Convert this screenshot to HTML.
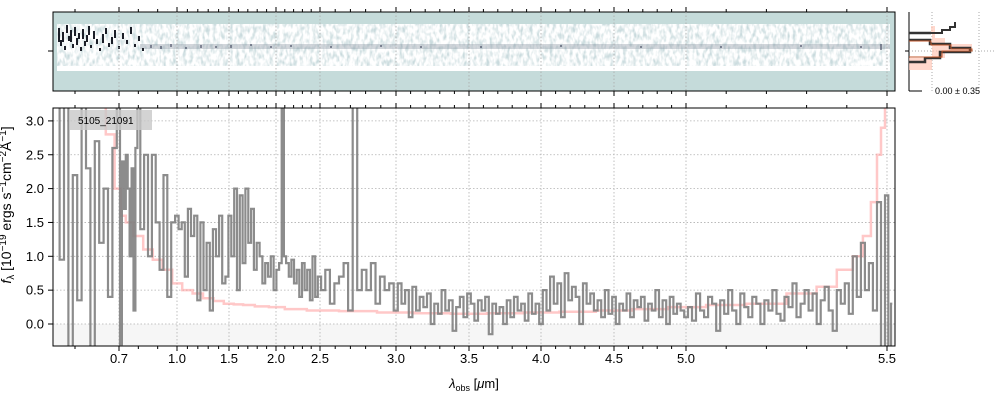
<!DOCTYPE html>
<html><head><meta charset="utf-8"><style>
html,body{margin:0;padding:0;background:#fff;width:1000px;height:400px;overflow:hidden}
svg{font-family:"Liberation Sans","DejaVu Sans",sans-serif}
</style></head><body>
<svg id="chart" width="1000" height="400" viewBox="0 0 1000 400">
<defs>
<clipPath id="cp"><rect x="53" y="108" width="842" height="238"/></clipPath>
<filter id="noise" x="0" y="0" width="100%" height="100%">
<feTurbulence type="fractalNoise" baseFrequency="0.3 0.15" numOctaves="2" seed="4"/>
<feColorMatrix type="matrix" values="0 0 0 0 0.55  0 0 0 0 0.68  0 0 0 0 0.7  0 0 0 -2.6 1.55"/>
</filter>
</defs>
<g id="top2d">
<rect x="53" y="12" width="842" height="79" fill="#c5dbda"/>
<rect x="57" y="24" width="833" height="47" fill="#fff"/>
<rect x="57" y="24" width="833" height="42" fill="#fff" filter="url(#noise)" opacity="0.9"/>
<rect x="140" y="44" width="750" height="5" fill="#7d8a99" opacity="0.35"/>
<g id="darkstreaks"></g>
<rect x="53" y="12" width="842" height="79" fill="none" stroke="#000" stroke-width="1"/>
</g>
<g id="side">
<line x1="909" y1="12" x2="909" y2="91" stroke="#000"/>
<line x1="909" y1="91" x2="922" y2="91" stroke="#000"/>
<line x1="905" y1="51" x2="909" y2="51" stroke="#000"/>
<line x1="909" y1="51" x2="996" y2="51" stroke="#aaa" stroke-dasharray="1,2"/>
<line x1="932" y1="12" x2="932" y2="91" stroke="#aaa" stroke-dasharray="1,2"/>
<line x1="979" y1="12" x2="979" y2="91" stroke="#aaa" stroke-dasharray="1,2"/>
<path d="M909,32 L931,32 L931,26 L935,26 L935,38 L945,38 L945,44 L972,44 L972,51 L945,51 L945,58 L909,58 L909,70 L932,70 L932,32 Z" fill="#ffc8b8" opacity="0.7"/>
<path d="M909,33 L942,33 L942,30 L950,30 L950,27 L955,27 L955,22" fill="none" stroke="#333" stroke-width="2"/>
<path d="M909,33 L931,33 M909,40 L930,40 L930,44 L950,44 L950,48 L970,48 L970,52 L940,52 L940,58 L925,58 L925,62 L909,62" fill="none" stroke="#333" stroke-width="2.5"/>
<path d="M909,41 L931,41 L931,45 L951,45 L951,49 L972,49 L972,51 L942,51 L942,57 L909,57" fill="none" stroke="#c0562a" stroke-width="1"/>
<text x="935" y="94" font-size="9">0.00 ± 0.35</text>
</g>
<g id="main"></g>
</svg>
<script>
const tickVals=[0.7,1.0,1.5,2.0,2.5,3.0,3.5,4.0,4.5,5.0,5.5];
const tickLabels=["0.7","1.0","1.5","2.0","2.5","3.0","3.5","4.0","4.5","5.0","5.5"];
const yTicks=[0,0.5,1,1.5,2,2.5,3];
const yLabels=["0.0","0.5","1.0","1.5","2.0","2.5","3.0"];
const wave=[0.56,0.57,0.58,0.59,0.60,0.61,0.62,0.63,0.64,0.65,0.66,0.67,0.68,0.69,0.70,0.71,0.72,0.73,0.74,0.75,0.76,0.77,0.78,0.79,0.80,
0.82,0.84,0.86,0.88,0.90,0.92,0.94,0.96,0.98,
1.00,1.03,1.06,1.09,1.12,1.15,1.18,1.21,1.24,1.27,1.30,1.33,1.36,1.39,1.42,1.45,1.48,1.51,1.54,1.57,1.60,1.63,1.66,1.69,1.72,1.75,1.78,1.81,1.84,1.87,1.90,1.93,1.96,1.99,2.02,2.05,2.08,
2.10,2.13,2.16,2.19,2.22,2.25,2.28,2.31,2.34,2.37,2.40,2.43,2.46,2.49,2.52,2.55,2.58,2.61,2.64,2.67,2.70,2.73,2.76,2.79,2.82,2.85,2.88,2.91,2.94,2.97,3.00,
3.025,3.05,3.075,3.10,3.125,3.15,3.175,3.20,3.225,3.25,3.275,3.30,3.325,3.35,3.375,3.40,3.425,3.45,3.475,3.50,3.525,3.55,3.575,3.60,3.625,3.65,3.675,3.70,3.725,3.75,3.775,3.80,3.825,3.85,3.875,3.90,3.925,3.95,3.975,4.00,
4.025,4.05,4.075,4.10,4.125,4.15,4.175,4.20,4.225,4.25,4.275,4.30,4.325,4.35,4.375,4.40,4.425,4.45,4.475,4.50,4.525,4.55,4.575,4.60,4.625,4.65,4.675,4.70,4.725,4.75,4.775,4.80,4.825,4.85,4.875,4.90,4.925,4.95,4.975,5.00,
5.01,5.02,5.03,5.04,5.05,5.06,5.07,5.08,5.09,5.10,5.11,5.12,5.13,5.14,5.15,5.16,5.17,5.18,5.19,5.20,5.21,5.22,5.23,5.24,5.25,5.26,5.27,5.28,5.29,5.30,5.31,5.32,5.33,5.34,5.35,5.36,5.37,5.38,5.39,5.40,5.41,5.42,5.43,5.44,5.45,5.46,5.47,5.48,5.49,5.50,5.51,5.52];
const flux=[3.3,0.95,3.3,-0.4,2.2,0.35,3.3,2.3,-0.4,2.7,1.2,2.0,0.4,2.6,3.3,-0.3,2.4,1.7,2.5,2.0,1.0,2.3,0.2,2.6,3.3,
1.4,2.5,1.0,2.5,1.5,0.8,2.2,0.4,1.5,
1.6,1.4,1.5,0.7,1.7,1.3,1.6,0.35,1.5,0.5,1.2,0.2,1.4,1.0,1.6,0.6,0.7,1.6,1.0,2.0,0.5,1.9,0.9,2.0,1.2,1.7,0.8,1.2,1.0,0.6,0.9,0.7,1.0,0.5,0.8,0.9,3.3,
1.0,0.9,0.7,0.95,0.6,0.8,0.4,0.9,0.5,0.8,0.35,1.0,0.4,0.7,0.5,0.8,0.3,0.6,0.7,0.9,0.2,3.3,0.5,0.8,0.5,0.9,0.3,0.7,0.5,0.6,0.2,
0.6,0.3,0.5,0.1,0.55,0.2,0.4,0.25,0.45,0.0,0.3,0.15,0.5,0.2,0.35,-0.1,0.25,0.4,0.1,0.45,0.3,0.05,0.35,0.2,0.4,-0.15,0.3,0.15,0.25,0.0,0.35,0.1,0.4,0.2,0.3,0.05,0.45,0.15,0.3,0.0,
0.5,0.2,0.7,0.3,0.6,0.1,0.75,0.35,0.55,0.4,0.0,0.6,0.3,0.45,0.2,0.35,0.1,0.5,0.15,0.4,0.0,0.3,0.2,0.45,0.1,0.35,0.25,0.4,0.05,0.3,0.2,0.5,0.1,0.35,0.0,0.4,0.15,0.3,0.2,0.1,
0.25,0.05,0.45,0.2,0.1,0.4,0.3,-0.1,0.35,0.15,0.5,0.2,0.0,0.45,0.25,0.1,0.4,0.3,0.0,0.35,0.2,0.5,0.15,0.05,0.4,0.25,0.6,0.1,0.3,0.5,0.2,0.45,0.0,0.35,0.55,0.2,-0.1,0.5,0.3,0.6,0.15,1.0,0.4,1.2,0.5,0.9,0.2,1.8,-0.4,1.9,-0.4,0.3];
const errWave=[0.66,0.68,0.70,0.72,0.75,0.80,0.85,0.90,0.95,1.0,1.1,1.2,1.3,1.4,1.5,1.6,1.7,1.85,2.0,2.2,2.5,2.75,3.0,3.25,3.5,3.75,4.0,4.25,4.5,4.75,5.0,5.1,5.2,5.3,5.35,5.4,5.43,5.45,5.47,5.48,5.49,5.5];
const errFlux=[3.3,2.8,2.0,1.6,1.5,1.3,1.1,0.95,0.8,0.6,0.5,0.45,0.38,0.34,0.3,0.29,0.28,0.26,0.25,0.22,0.2,0.19,0.17,0.16,0.15,0.16,0.17,0.18,0.2,0.22,0.25,0.28,0.3,0.45,0.55,0.8,1.0,1.3,1.8,2.5,2.9,3.3];

const NS='http://www.w3.org/2000/svg';
const axW=[0.55,0.7,1.0,1.5,2.0,2.5,3.0,3.5,4.0,4.5,5.0,5.5,5.53];
const axX=[53,119,177,229,276,320,396,469,541,614,686,887,895];
function xs(w){for(let i=0;i<axW.length-1;i++){if(w<=axW[i+1]||i==axW.length-2){return axX[i]+(w-axW[i])/(axW[i+1]-axW[i])*(axX[i+1]-axX[i]);}}}
function ys(f){return 324-67.7*f;}
function mk(tag,attrs,parent){const e=document.createElementNS(NS,tag);for(const k in attrs)e.setAttribute(k,attrs[k]);parent.appendChild(e);return e;}
const main=document.getElementById('main');

const shade=mk('rect',{x:53,y:324,width:842,height:22,fill:'#f6f6f6'},main);



const top2d=document.getElementById('top2d');
tickVals.forEach(v=>{
  const x=xs(v);
  const g=mk('line',{x1:x,y1:108,x2:x,y2:346,stroke:'#b0b0b0','stroke-dasharray':'1.5,2','stroke-width':0.8},main);
  
  
  mk('line',{x1:x,y1:12,x2:x,y2:91,stroke:'#aaa','stroke-dasharray':'1.5,2','stroke-width':0.8},top2d);
});
yTicks.forEach(v=>{
  const y=ys(v);
  const g=mk('line',{x1:53,y1:y,x2:895,y2:y,stroke:'#b0b0b0','stroke-dasharray':'1.5,2','stroke-width':0.8},main);
  
  
});

function stepPath(W,F){
  let d='';
  for(let i=0;i<W.length;i++){
    const xl=i==0?xs(W[0]):(xs(W[i-1])+xs(W[i]))/2;
    const xr=i==W.length-1?xs(W[i]):(xs(W[i])+xs(W[i+1]))/2;
    const y=ys(F[i]);
    d+=(i==0?'M':'L')+xl.toFixed(1)+','+y.toFixed(1)+' L'+xr.toFixed(1)+','+y.toFixed(1)+' ';
  }
  return d;
}
const cg=mk('g',{'clip-path':'url(#cp)'},main);
const ep=mk('path',{d:stepPath(errWave,errFlux),fill:'none',stroke:'#ff9a9a','stroke-width':2.5,opacity:0.55},cg);


const fp=mk('path',{d:stepPath(wave,flux),fill:'none',stroke:'#808080','stroke-width':2.2,opacity:0.9},cg);



const fr=mk('rect',{x:53,y:108,width:842,height:238,fill:'none',stroke:'#000','stroke-width':1},main);



const minorVals=[0.6,0.8,0.9,1.1,1.2,1.3,1.4,1.6,1.7,1.8,1.9,2.1,2.2,2.3,2.4,2.6,2.7,2.8,2.9,3.1,3.2,3.3,3.4,3.6,3.7,3.8,3.9,4.1,4.2,4.3,4.4,4.6,4.7,4.8,4.9,5.1,5.2,5.3,5.4];
minorVals.forEach(v=>{const x=xs(v);
  mk('line',{x1:x,y1:346,x2:x,y2:349,stroke:'#000'},main);
  mk('line',{x1:x,y1:108,x2:x,y2:105,stroke:'#000'},main);
  mk('line',{x1:x,y1:91,x2:x,y2:94,stroke:'#000'},main);
  mk('line',{x1:x,y1:12,x2:x,y2:9,stroke:'#000'},main);
});
tickVals.forEach((v,i)=>{const x=xs(v);
  mk('line',{x1:x,y1:346,x2:x,y2:351,stroke:'#000'},main);
  mk('line',{x1:x,y1:108,x2:x,y2:103,stroke:'#000'},main);
  mk('line',{x1:x,y1:91,x2:x,y2:96,stroke:'#000'},main);
  mk('line',{x1:x,y1:12,x2:x,y2:7,stroke:'#000'},main);
  const t=mk('text',{x:x,y:363,'font-size':13,'text-anchor':'middle',fill:'#000'},main);
  t.textContent=tickLabels[i];
  
  
});
mk('line',{x1:48,y1:51,x2:53,y2:51,stroke:'#000'},main);
yTicks.forEach((v,i)=>{const y=ys(v);
  mk('line',{x1:48,y1:y,x2:53,y2:y,stroke:'#000'},main);
  const t=mk('text',{x:44,y:y+4.5,'font-size':13,'text-anchor':'end',fill:'#000'},main);
  t.textContent=yLabels[i];
  
  
});
const lb=mk('rect',{x:70,y:110,width:82,height:20,fill:'#c8c8c8',opacity:0.8},main);


const lt=mk('text',{x:78,y:124,'font-size':10,fill:'#000'},main);
lt.textContent='5105_21091';


const xl=mk('text',{x:474,y:388,'font-size':13,'text-anchor':'middle'},main);
xl.innerHTML='<tspan font-style="italic">λ</tspan><tspan font-size="9" dy="3">obs</tspan><tspan dy="-3"> [</tspan><tspan font-style="italic">μ</tspan>m]';


const yl=mk('text',{x:0,y:0,'font-size':14,'text-anchor':'middle',transform:'translate(11,205) rotate(-90)'},main);
yl.innerHTML='<tspan font-style="italic">f</tspan><tspan font-size="10" dy="3">λ</tspan><tspan dy="-3"> [10</tspan><tspan font-size="10" dy="-5">−19</tspan><tspan dy="5"> ergs s</tspan><tspan font-size="10" dy="-5">−1</tspan><tspan dy="5">cm</tspan><tspan font-size="10" dy="-5">−2</tspan><tspan dy="5">Å</tspan><tspan font-size="10" dy="-5">−1</tspan><tspan dy="5">]</tspan>';



const ds=document.getElementById('darkstreaks');
const streakX=[58,60,62,64,66,68,70,72,74,76,78,80,82,84,86,88,90,93,96,99,102,105,108,111,114,118,122,126,130,134,138,142,150,160,170,185,200,215,230,250,270,290,330,380,420,480,560,640,720,800,860,880];
const streakY=[28,40,32,46,25,36,30,44,27,38,33,47,29,41,35,26,45,31,39,48,34,28,43,37,30,46,33,40,27,44,36,48,45,46,44,47,45,46,45,44,46,45,46,45,46,46,45,46,46,45,46,44];
const streakH=[14,6,10,4,8,5,12,4,9,7,6,4,10,5,7,9,3,8,5,3,9,6,4,7,8,3,6,4,7,3,5,3,3,3,3,2,3,2,3,2,2,2,2,2,2,2,2,2,2,2,2,6];
streakX.forEach((x,i)=>{
  const r=mk('rect',{x:x,y:streakY[i],width:2,height:streakH[i],fill:i<32?'#10131c':'#3a4058',opacity:i<32?0.95:0.55},ds);
  
  
});
</script>
</body></html>
